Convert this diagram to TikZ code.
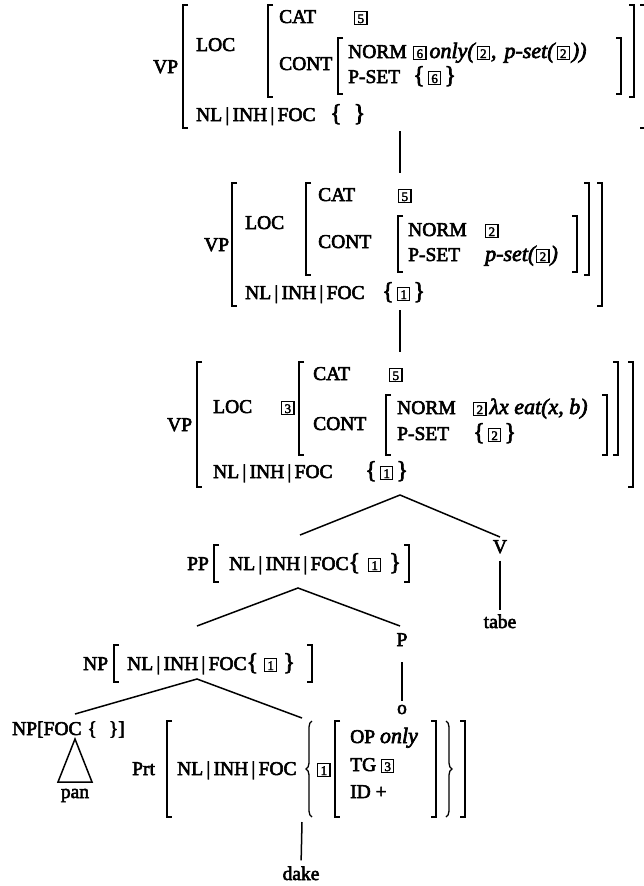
\documentclass[tikz,border=0pt]{standalone}
\usepackage{fontspec}
\setmainfont{Liberation Serif}[FakeBold=3]
\usetikzlibrary{decorations.pathreplacing}
\newcommand\fs{\fontsize{19.5}{22}\selectfont}
\newcommand\itx[1]{{\fontsize{22}{22}\selectfont\itshape #1}}
\newcommand\tg[1]{{\setlength\fboxsep{0.8pt}\setlength\fboxrule{1.1pt}\fbox{\makebox[9.5pt]{\rule[-0.5pt]{0pt}{11pt}\fontsize{13}{13}\selectfont #1}}}}
\newcommand\bo{{\fontsize{24}{24}\selectfont\{}}
\newcommand\bc{{\fontsize{24}{24}\selectfont\}}}
\newcommand\NIF{NL\,|\,INH\,|\,FOC}
\newcommand\LBr[3]{\draw[brk] (#1+5,#2) -- (#1,#2) -- (#1,#3) -- (#1+5,#3);}
\newcommand\RBr[3]{\draw[brk] (#1-5,#2) -- (#1,#2) -- (#1,#3) -- (#1-5,#3);}
\newcommand\LBrace[3]{\draw[brk,decorate,decoration={brace,amplitude=6pt}] (#1,#3) -- (#1,#2);}
\newcommand\RBrace[3]{\draw[brk,decorate,decoration={brace,amplitude=6pt}] (#1,#2) -- (#1,#3);}
\tikzset{
  txt/.style={inner sep=0pt, anchor=base west, font=\fs},
  ctxt/.style={inner sep=0pt, anchor=base, font=\fs},
  brk/.style={line width=1.3pt},
  edge/.style={line width=1.5pt},
}
\begin{document}
\begin{tikzpicture}[x=1pt,y=-1pt]
\useasboundingbox (0,0) rectangle (644,886);
% ---------- AVM 1 ----------
\node[txt] (vp1) at (153,73) {VP};
\LBr{183}{5}{128}
\node[txt] (loc1) at (196,51) {LOC};
\LBr{268}{5}{97}
\node[txt] (cat1) at (279,23) {CAT};
\node[txt] (cat1v) at (354,23) {\tg{5}};
\node[txt] (cont1) at (279,70) {CONT};
\LBr{338}{38}{94}
\node[txt] (norm1) at (348,58) {NORM};
\node[txt] (norm1v) at (413,58) {\tg{6}\hspace{3pt}\itx{only(}\hspace{2pt}\tg{2}\hspace{1pt}\itx{,\hspace{8pt}p-set(}\hspace{2pt}\tg{2}\hspace{2pt}\itx{))}};
\node[txt] (pset1) at (348,83) {P-SET};
\node[txt] (pset1v) at (413,83) {\bo\,\tg{6}\,\bc};
\RBr{621}{38}{94}
\RBr{634}{5}{97}
\RBr{645}{5}{128}
\node[txt] (nl1) at (196,121) {\NIF};
\node[txt] (nl1v) at (330,121) {\bo\hspace{12pt}\bc};
\coordinate (l1a) at (400,131);
\coordinate (l1b) at (400,173);
\draw[edge] (l1a) -- (l1b);
% ---------- AVM 2 ----------
\node[txt] (vp2) at (204,251) {VP};
\LBr{232}{183}{306}
\node[txt] (loc2) at (245,229) {LOC};
\LBr{306}{183}{275}
\node[txt] (cat2) at (318,201) {CAT};
\node[txt] (cat2v) at (398,201) {\tg{5}};
\node[txt] (cont2) at (318,248) {CONT};
\LBr{398}{216}{272}
\node[txt] (norm2) at (408,236) {NORM};
\node[txt] (norm2v) at (485,236) {\tg{2}};
\node[txt] (pset2) at (408,261) {P-SET};
\node[txt] (pset2v) at (485,261) {\itx{p-set(}\hspace{1pt}\tg{2}\hspace{1pt}\itx{)}};
\RBr{577}{216}{272}
\RBr{589}{183}{275}
\RBr{602}{183}{306}
\node[txt] (nl2) at (245,299) {\NIF};
\node[txt] (nl2v) at (382,299) {\bo\,\tg{1}\,\bc};
\coordinate (l2a) at (400,310);
\coordinate (l2b) at (400,352);
\draw[edge] (l2a) -- (l2b);
% ---------- AVM 3 ----------
\node[txt] (vp3) at (167,431) {VP};
\LBr{197}{362}{487}
\node[txt] (loc3) at (213,413) {LOC};
\node[txt] (loc3t) at (281,413) {\tg{3}};
\LBr{299}{362}{455}
\node[txt] (cat3) at (313,380) {CAT};
\node[txt] (cat3v) at (389,380) {\tg{5}};
\node[txt] (cont3) at (313,430) {CONT};
\LBr{386}{395}{455}
\node[txt] (norm3) at (397,414) {NORM};
\node[txt] (norm3v) at (473,414) {\tg{2}\hspace{3pt}\itx{λx eat(x, b)}};
\node[txt] (pset3) at (397,440) {P-SET};
\node[txt] (pset3v) at (473,440) {\bo\,\tg{2}\,\bc};
\RBr{607}{395}{455}
\RBr{618}{362}{455}
\RBr{633}{362}{487}
\node[txt] (nl3) at (213,478) {\NIF};
\node[txt] (nl3v) at (365,478) {\bo\,\tg{1}\,\bc};
% ---------- tree ----------
\coordinate (a1) at (400,495);
\coordinate (pptop) at (300,535);
\coordinate (vtop) at (500,537);
\draw[edge] (pptop) -- (a1) -- (vtop);
\node[ctxt] (v) at (500,553) {V};
\node[ctxt] (tabe) at (500,628) {tabe};
\draw[edge, shorten <=7pt, shorten >=4pt] (v.south) -- (tabe.north);
% PP
\node[txt] (pp) at (187,570) {PP};
\LBr{214}{545}{582}
\node[txt] (ppnl) at (229,570) {\NIF\bo\hspace{8pt}\tg{1}\hspace{8pt}\bc};
\RBr{409}{545}{582}
\coordinate (a2) at (298,588);
\coordinate (nptop) at (197,626);
\coordinate (ptop) at (400,626);
\draw[edge] (nptop) -- (a2) -- (ptop);
\node[ctxt] (p) at (402,646) {P};
\node[ctxt] (o) at (402,714) {o};
\draw[edge, shorten <=16pt, shorten >=4pt] (p.south) -- (o.north);
% NP
\node[txt] (np) at (83,670) {NP};
\LBr{114}{645}{682}
\node[txt] (npnl) at (127,670) {\NIF\bo\hspace{6pt}\tg{1}\hspace{6pt}\bc};
\RBr{312}{645}{682}
\coordinate (a3) at (197,679);
\coordinate (np2top) at (75,714);
\coordinate (prttop) at (302,718);
\draw[edge] (np2top) -- (a3) -- (prttop);
% NP[FOC]
\node[txt] (np2) at (12,735) {NP[FOC\hspace{6pt}\{\hspace{12pt}\}]};
\draw[edge] (75,739) -- (58,782) -- (92,782) -- cycle;
\node[ctxt] (pan) at (75,798) {pan};
% Prt
\node[txt] (prt) at (132,775) {Prt};
\LBr{167}{721}{817}
\node[txt] (prtnl) at (177,775) {\NIF};
\LBrace{312}{721}{817}
\node[txt] (prtt) at (317,775) {\tg{1}};
\LBr{335}{721}{817}
\node[txt] (op) at (350,743) {OP \itx{only}};
\node[txt] (tg) at (350,771) {TG \tg{3}};
\node[txt] (id) at (350,798) {ID +};
\RBr{436}{721}{817}
\RBrace{446}{721}{817}
\RBr{465}{721}{817}
\coordinate (prtbot) at (302,822);
\node[ctxt] (dake) at (301,880) {dake};
\draw[edge, shorten >=6pt] (prtbot) -- (dake.north);
\end{tikzpicture}
\end{document}
